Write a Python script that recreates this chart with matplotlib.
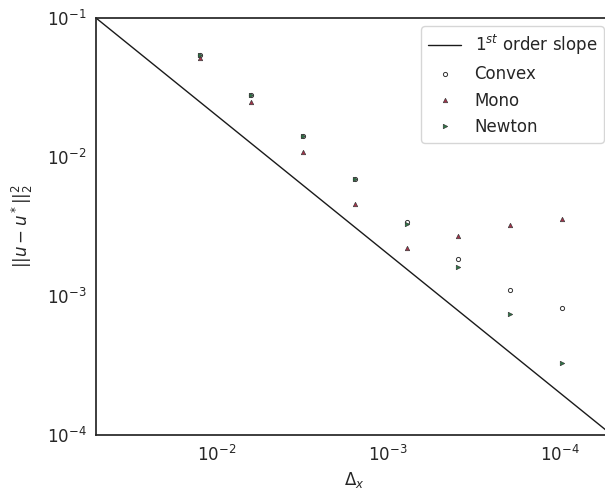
import numpy as np
import matplotlib
matplotlib.use("Agg")
import matplotlib.pyplot as plt
import seaborn as sns

sns.set_style("white")
plt.rcParams["font.family"] = ["DejaVu Sans"]

# grid spacing
dx = [1.25e-2, 6.25e-3, 3.125e-3, 1.5625e-3, 7.8125e-4, 3.90625e-4, 1.953125e-4, 9.765625e-5]

# errors
err_convex = [0.0545, 0.0279, 0.0142, 0.0070, 0.00343, 0.00185, 0.00110, 0.000815]
err_mono = [0.0518, 0.0248, 0.0109, 0.00457, 0.00220, 0.00270, 0.00324, 0.00357]
err_newton = [0.0540, 0.0279, 0.0141, 0.0069, 0.00328, 0.00162, 0.000747, 0.00033]

# reference slope
slope_x = [5e-2, 5e-5]
slope_y = [1e-1, 1e-4]

fig = plt.figure(figsize=(6.05, 4.93), dpi=100)
ax = fig.add_axes([96 / 605, 1 - 435 / 493, 516 / 605, 417 / 493])

ax.plot(slope_x, slope_y, color="#1a1a1a", linewidth=1.0, label="$1^{st}$ order slope")
ax.plot(dx, err_convex, linestyle="none", marker="o", markersize=3,
        markerfacecolor="white", markeredgecolor="#333333", markeredgewidth=0.7, label="Convex")
ax.plot(dx, err_mono, linestyle="none", marker="^", markersize=3.2,
        markerfacecolor="#a8304a", markeredgecolor="#3a3a3a", markeredgewidth=0.5, label="Mono")
ax.plot(dx, err_newton, linestyle="none", marker=">", markersize=3.2,
        markerfacecolor="#2a7a45", markeredgecolor="#3a3a3a", markeredgewidth=0.5, label="Newton")

ax.set_xscale("log")
ax.set_yscale("log")
ax.set_xlim(5e-2, 5e-5)
ax.set_ylim(1e-4, 1e-1)
ax.set_xticks([1e-2, 1e-3, 1e-4])
ax.set_yticks([1e-4, 1e-3, 1e-2, 1e-1])
ax.minorticks_off()
ax.tick_params(labelsize=12, colors="#262626")

ax.set_xlabel(r"$\Delta_x$", fontsize=12)
ax.set_ylabel(r"$||u - u^*||_2^2$", fontsize=12, labelpad=8)

for s in ax.spines.values():
    s.set_color("#262626")
    s.set_linewidth(1.25)

ax.legend(loc="upper right", fontsize=12, frameon=True)

fig.savefig("out.png", dpi=100)
